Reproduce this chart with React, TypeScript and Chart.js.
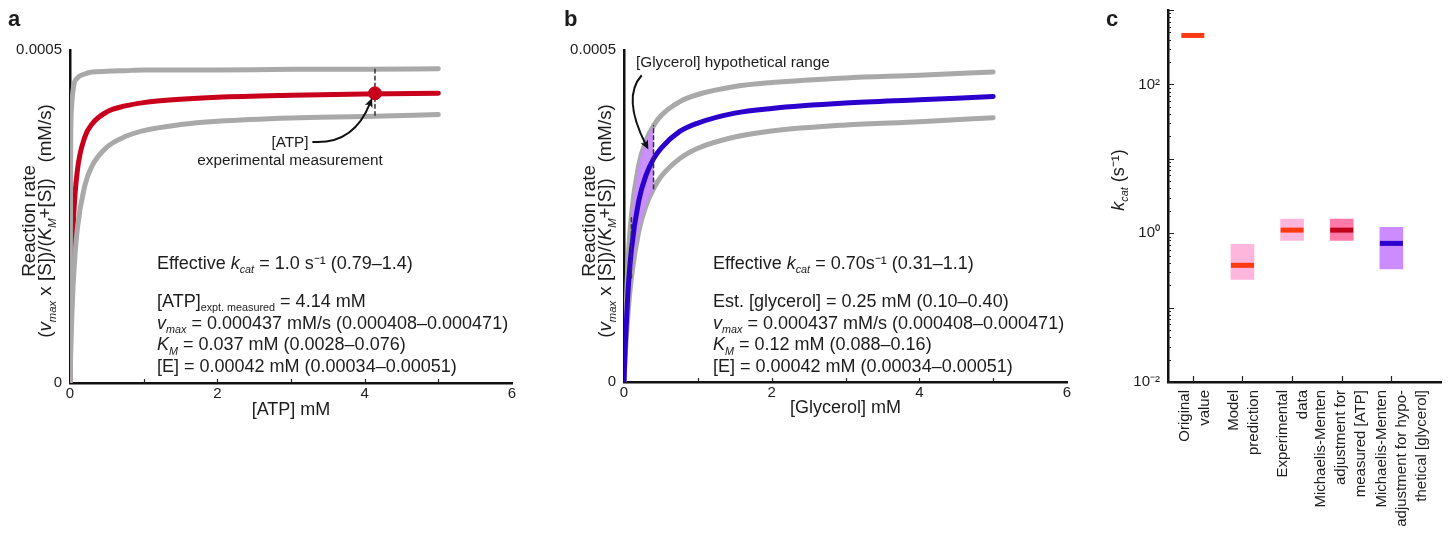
import React, { useEffect, useRef } from 'react';
import { Chart, registerables } from 'chart.js';
Chart.register(...registerables);

const FONT = '"Liberation Sans", Arial, Helvetica, sans-serif';
const TEXT = '#1c1c1c';
const GRAY = '#a9a9a9';
const RED = '#c8001c';
const BLUE = '#2b00cc';
const PURPLE_FILL = 'rgba(200,140,255,0.95)';

// ---------- Panel a : ATP ----------
const atpX = [0, 0.01, 0.02, 0.05, 0.1, 0.2, 0.3, 0.5, 0.75, 1, 1.5, 2, 3, 4, 5];
const atpUpper = [0, 0.000368, 0.000413, 0.000446, 0.000458, 0.000464, 0.000467, 0.000468, 0.000469, 0.00047, 0.00047, 0.00047, 0.000471, 0.000471, 0.000472];
const atpFit = [0, 0.000093, 0.000153, 0.000251, 0.000319, 0.000369, 0.000389, 0.000407, 0.000416, 0.000421, 0.000426, 0.000429, 0.000432, 0.000434, 0.000435];
const atpLower = [0, 0.000047, 0.000085, 0.000162, 0.000232, 0.000296, 0.000326, 0.000354, 0.00037, 0.000379, 0.000388, 0.000393, 0.000398, 0.0004, 0.000403];
const atpMeasured = 4.14;
const atpMeasuredRate = 0.000435;
const atpBand = [0.000471, 0.000401];

// ---------- Panel b : Glycerol ----------
const glyX = [0, 0.01, 0.02, 0.05, 0.1, 0.2, 0.3, 0.4, 0.5, 0.75, 1, 1.5, 2, 3, 4, 5];
const glyUpper = [0, 0.000048, 0.000087, 0.000171, 0.000251, 0.000327, 0.000364, 0.000386, 0.000401, 0.000422, 0.000433, 0.000445, 0.000451, 0.000458, 0.000462, 0.000467];
const glyFit = [0, 0.000034, 0.000062, 0.000129, 0.000199, 0.000273, 0.000312, 0.000336, 0.000352, 0.000377, 0.00039, 0.000405, 0.000412, 0.00042, 0.000425, 0.00043];
const glyLower = [0, 0.000024, 0.000045, 0.000097, 0.000157, 0.000227, 0.000266, 0.000291, 0.000309, 0.000336, 0.000352, 0.000369, 0.000378, 0.000387, 0.000392, 0.000398];
const glyRangeX = [0.1, 0.2, 0.3, 0.4];
const glyRangeUpper = [0.000251, 0.000327, 0.000364, 0.000386];
const glyRangeLower = [0.000157, 0.000227, 0.000266, 0.000291];

// ---------- Panel c : kcat ----------
const kcatPos = [1, 2, 3, 4, 5];
const kcatLabels = [
  ['Original', 'value'],
  ['Model', 'prediction'],
  ['Experimental', 'data'],
  ['Michaelis-Menten', 'adjustment for', 'measured [ATP]'],
  ['Michaelis-Menten', 'adjustment for hypo-', 'thetical [glycerol]'],
];
const kcatMid = [455, 0.37, 1.1, 1.1, 0.73];
const kcatLow = [null, 0.24, 0.8, 0.8, 0.33];
const kcatHigh = [null, 0.71, 1.55, 1.55, 1.2];
const kcatBoxColors = ['#ffb6dc', '#ffb6dc', '#ffb6dc', '#ff7aa8', '#cc8cff'];
const kcatLineColors = ['#ff3a12', '#ff3a12', '#ff3a12', '#c0001a', '#2b00cc'];
const kcatTickLabels: Record<string, string> = { '0.01': '10⁻²', '1': '10⁰', '100': '10²' };

const pts = (xs: number[], ys: number[]) => xs.map((x, i) => ({ x, y: ys[i] }));

type Arrow = { from: number[]; ctrl: number[]; to: number[] };
function arrowPlugin(items: Arrow[]) {
  return {
    id: 'arrows',
    afterDatasetsDraw(chart: any) {
      const xs = chart.scales.x, ys = chart.scales.y, ctx = chart.ctx;
      const P = (p: number[]) => [xs.getPixelForValue(p[0]), ys.getPixelForValue(p[1])];
      items.forEach((it) => {
        const [x0, y0] = P(it.from), [cx, cy] = P(it.ctrl), [x1, y1] = P(it.to);
        const ang = Math.atan2(y1 - cy, x1 - cx);
        const hl = 10;
        ctx.save();
        ctx.strokeStyle = '#111';
        ctx.fillStyle = '#111';
        ctx.lineWidth = 2;
        ctx.beginPath();
        ctx.moveTo(x0, y0);
        ctx.quadraticCurveTo(cx, cy, x1 - Math.cos(ang) * hl * 0.6, y1 - Math.sin(ang) * hl * 0.6);
        ctx.stroke();
        ctx.beginPath();
        ctx.moveTo(x1, y1);
        ctx.lineTo(x1 - hl * Math.cos(ang - 0.42), y1 - hl * Math.sin(ang - 0.42));
        ctx.lineTo(x1 - hl * 0.7 * Math.cos(ang), y1 - hl * 0.7 * Math.sin(ang));
        ctx.lineTo(x1 - hl * Math.cos(ang + 0.42), y1 - hl * Math.sin(ang + 0.42));
        ctx.closePath();
        ctx.fill();
        ctx.restore();
      });
    },
  };
}

function tickPlugin(xTicks: number[], xLen: number, yTicks: { v: number; len: number }[]) {
  return {
    id: 'innerTicks',
    afterDraw(chart: any) {
      const xs = chart.scales.x, ys = chart.scales.y, ctx = chart.ctx;
      const { left, bottom } = chart.chartArea;
      ctx.save();
      ctx.strokeStyle = '#222';
      ctx.lineWidth = 1.2;
      ctx.beginPath();
      xTicks.forEach((v) => {
        const px = Math.round(xs.getPixelForValue(v)) + 0.5;
        ctx.moveTo(px, bottom);
        ctx.lineTo(px, bottom - xLen);
      });
      yTicks.forEach((t) => {
        const py = Math.round(ys.getPixelForValue(t.v)) + 0.5;
        ctx.moveTo(left, py);
        ctx.lineTo(left + t.len, py);
      });
      ctx.stroke();
      ctx.restore();
    },
  };
}

// multi-line rotated category labels around each tick
function catLabelPlugin(labels: string[][], positions: number[], shifts: number[]) {
  return {
    id: 'catLabels',
    afterDraw(chart: any) {
      const xs = chart.scales.x, ctx = chart.ctx;
      const { bottom } = chart.chartArea;
      ctx.save();
      ctx.font = `15px ${FONT}`;
      ctx.fillStyle = TEXT;
      ctx.textAlign = 'right';
      ctx.textBaseline = 'middle';
      positions.forEach((p, i) => {
        const px = xs.getPixelForValue(p);
        const lines = labels[i];
        const n = lines.length;
        lines.forEach((t, j) => {
          const lx = px + (j - (n - 1) / 2) * 20 + shifts[i];
          ctx.save();
          ctx.translate(lx, bottom + 8);
          ctx.rotate(-Math.PI / 2);
          ctx.fillText(t, 0, 0);
          ctx.restore();
        });
      });
      ctx.restore();
    },
  };
}

const tickFont = { family: FONT, size: 15 };
const border = { display: true, color: '#111', width: 2.5 };
const noPad = (s: any) => { s.paddingTop = 0; s.paddingBottom = 0; s.paddingLeft = 0; s.paddingRight = 0; };

function curveOptions(xTitle: string, yWidth: number, xHeight: number, padRight: number, titleBottom: number) {
  return {
    animation: false,
    responsive: false,
    layout: { autoPadding: false, padding: { top: 50, right: padRight, left: 0, bottom: 0 } },
    plugins: { legend: { display: false }, tooltip: { enabled: false } },
    elements: {
      line: { borderWidth: 5, cubicInterpolationMode: 'monotone', borderCapStyle: 'round', fill: false },
      point: { radius: 0, hoverRadius: 0 },
    },
    scales: {
      x: {
        type: 'linear', min: 0, max: 6,
        afterBuildTicks: (s: any) => { s.ticks = [0, 2, 4, 6].map((v) => ({ value: v })); },
        ticks: { font: tickFont, color: TEXT, padding: 2, maxRotation: 0, autoSkip: false, callback: (v: any) => String(v) },
        grid: { display: false, drawTicks: false },
        border,
        title: { display: true, text: xTitle, font: { family: FONT, size: 18 }, color: TEXT, padding: { top: 0, bottom: titleBottom } },
        afterFit: (s: any) => { s.height = xHeight; noPad(s); },
      },
      y: {
        type: 'linear', min: 0, max: 0.0005,
        afterBuildTicks: (s: any) => { s.ticks = [{ value: 0 }, { value: 0.0005 }]; },
        ticks: { font: tickFont, color: TEXT, padding: 8, autoSkip: false, callback: (v: any) => (v === 0 ? '0' : '0.0005') },
        grid: { display: false, drawTicks: false },
        border,
        afterFit: (s: any) => { s.width = yWidth; noPad(s); },
      },
    },
  };
}

function configA(): any {
  return {
    type: 'line',
    data: {
      datasets: [
        { type: 'scatter', data: [{ x: atpMeasured, y: atpMeasuredRate }], pointRadius: 6.5, pointHoverRadius: 6.5, backgroundColor: RED, borderColor: RED, order: 0 },
        { data: [{ x: atpMeasured, y: atpBand[0] }, { x: atpMeasured, y: atpBand[1] }], borderColor: '#333', borderWidth: 1.5, borderDash: [4, 3], order: 1 },
        { data: pts(atpX, atpUpper), borderColor: GRAY, order: 2 },
        { data: pts(atpX, atpLower), borderColor: GRAY, order: 2 },
        { data: pts(atpX, atpFit), borderColor: RED, order: 3 },
      ],
    },
    options: curveOptions('[ATP] mM', 70, 47, 33, 9),
    plugins: [
      arrowPlugin([{ from: [3.29, 0.000362], ctrl: [3.85, 0.000358], to: [4.1, 0.000428] }]),
      tickPlugin([1, 2, 3, 4, 5], 4, []),
    ],
  };
}

function configB(): any {
  return {
    type: 'line',
    data: {
      datasets: [
        { data: [{ x: glyRangeX[0], y: glyRangeLower[0] }, { x: glyRangeX[0], y: glyRangeUpper[0] }], borderColor: '#333', borderWidth: 1.5, borderDash: [4, 3], order: 0 },
        { data: [{ x: glyRangeX[3], y: glyRangeLower[3] }, { x: glyRangeX[3], y: glyRangeUpper[3] }], borderColor: '#333', borderWidth: 1.5, borderDash: [4, 3], order: 0 },
        { data: pts(glyX, glyUpper), borderColor: GRAY, order: 2 },
        { data: pts(glyX, glyLower), borderColor: GRAY, order: 2 },
        { data: pts(glyX, glyFit), borderColor: BLUE, order: 1 },
        { data: pts(glyRangeX, glyRangeUpper), borderWidth: 0, borderColor: 'rgba(0,0,0,0)', backgroundColor: PURPLE_FILL, fill: '+1', order: 1.5 },
        { data: pts(glyRangeX, glyRangeLower), borderWidth: 0, borderColor: 'rgba(0,0,0,0)', order: 1.5 },
      ],
    },
    options: curveOptions('[Glycerol] mM', 72, 48, 30, 11),
    plugins: [
      arrowPlugin([{ from: [0.24, 0.000462], ctrl: [-0.03, 0.000429], to: [0.33, 0.00035] }]),
      tickPlugin([1, 2, 3, 4, 5], 4, []),
    ],
  };
}

function configC(): any {
  const boxes: any[] = [];
  const boxCols: string[] = [];
  kcatPos.forEach((x, i) => {
    if (kcatLow[i] != null && kcatHigh[i] != null) {
      boxes.push({ x, y: [kcatLow[i], kcatHigh[i]] });
      boxCols.push(kcatBoxColors[i]);
    }
  });
  const yTicks: { v: number; len: number }[] = [];
  for (let d = -2; d <= 2; d++) for (let m = 1; m <= 9; m++) yTicks.push({ v: m * Math.pow(10, d), len: m === 1 ? 6 : 3 });
  yTicks.push({ v: 1000, len: 6 });
  return {
    type: 'bar',
    data: {
      datasets: [
        {
          type: 'scatter',
          data: kcatPos.map((x, i) => ({ x, y: kcatMid[i] })),
          pointStyle: 'line', pointRadius: 11.5, pointHoverRadius: 11.5,
          borderWidth: 5, pointBorderWidth: 5,
          borderColor: kcatLineColors, pointBorderColor: kcatLineColors, backgroundColor: kcatLineColors,
          order: 0,
        },
        { type: 'bar', data: boxes, backgroundColor: boxCols, borderWidth: 0, barThickness: 23, order: 1 },
      ],
    },
    options: {
      animation: false,
      responsive: false,
      layout: { autoPadding: false, padding: { top: 10, right: 7, left: 0, bottom: 0 } },
      plugins: { legend: { display: false }, tooltip: { enabled: false } },
      scales: {
        x: {
          type: 'linear', min: 0.5, max: 6, offset: false,
          afterBuildTicks: (s: any) => { s.ticks = kcatPos.map((v) => ({ value: v })); },
          ticks: { display: false },
          grid: { display: false, drawTicks: false },
          border,
          afterFit: (s: any) => { s.height = 162; noPad(s); },
        },
        y: {
          type: 'logarithmic', min: 0.01, max: 1000,
          afterBuildTicks: (s: any) => { s.ticks = [0.01, 1, 100].map((v) => ({ value: v })); },
          ticks: { font: tickFont, color: TEXT, padding: 8, autoSkip: false, callback: (v: any) => kcatTickLabels[String(v)] ?? '' },
          grid: { display: false, drawTicks: false },
          border,
          afterFit: (s: any) => { s.width = 68; noPad(s); },
        },
      },
    },
    plugins: [tickPlugin(kcatPos, 6, yTicks), catLabelPlugin(kcatLabels, kcatPos, [2, 1.5, 0.5, -1, 10])],
  };
}

function ChartBox({ left, top, width, height, make }: any) {
  const ref = useRef<HTMLCanvasElement>(null);
  useEffect(() => {
    const c = new Chart(ref.current as HTMLCanvasElement, make());
    return () => c.destroy();
  }, []);
  return (
    <div style={{ position: 'absolute', left, top, width, height }}>
      <canvas ref={ref} width={width} height={height} style={{ width, height, display: 'block' }} />
    </div>
  );
}

const Sub = ({ children, it }: any) => (
  <span style={{ fontSize: '0.6em', fontStyle: it ? 'italic' : 'normal', position: 'relative', top: '0.4em', lineHeight: 0 }}>{children}</span>
);

function RotText({ cx, cy, w, h, fontSize, lineHeight, children }: any) {
  return (
    <div
      style={{
        position: 'absolute', left: cx - w / 2, top: cy - h / 2, width: w, height: h,
        transform: 'rotate(-90deg)', transformOrigin: '50% 50%', textAlign: 'center',
        fontSize, lineHeight: lineHeight + 'px', whiteSpace: 'nowrap', color: TEXT,
      }}
    >
      {children}
    </div>
  );
}

const abs = (left: number, top: number, extra: any = {}) => ({ position: 'absolute' as const, left, top, whiteSpace: 'nowrap' as const, ...extra });

export default function App() {
  const blockStyle = { fontSize: 18, lineHeight: '21.7px', color: TEXT };
  return (
    <div style={{ position: 'absolute', left: 0, top: 0, width: 1448, height: 544, background: '#fff', fontFamily: FONT, color: TEXT, overflow: 'hidden' }}>
      <ChartBox left={0} top={0} width={545} height={430} make={configA} />
      <ChartBox left={552} top={0} width={545} height={430} make={configB} />
      <ChartBox left={1100} top={0} width={348} height={544} make={configC} />

      {/* panel letters */}
      <div style={abs(8, 8, { fontSize: 22, fontWeight: 'bold', lineHeight: '22px' })}>a</div>
      <div style={abs(564, 8, { fontSize: 22, fontWeight: 'bold', lineHeight: '22px' })}>b</div>
      <div style={abs(1106, 8, { fontSize: 22, fontWeight: 'bold', lineHeight: '22px' })}>c</div>

      {/* y titles */}
      <RotText cx={37} cy={221} w={340} h={32} fontSize={18.8} lineHeight={16}>
        <div>Reaction rate</div>
        <div>(<i>v</i><Sub it>max</Sub> x [S])/(<i>K</i><Sub it>M</Sub>+[S])&nbsp;&nbsp;&nbsp;(mM/s)</div>
      </RotText>
      <RotText cx={597} cy={221} w={340} h={32} fontSize={18.8} lineHeight={16}>
        <div>Reaction rate</div>
        <div>(<i>v</i><Sub it>max</Sub> x [S])/(<i>K</i><Sub it>M</Sub>+[S])&nbsp;&nbsp;&nbsp;(mM/s)</div>
      </RotText>
      <RotText cx={1118} cy={180} w={120} h={22} fontSize={18} lineHeight={22}>
        <i>k</i><Sub it>cat</Sub> (s⁻¹)
      </RotText>

      {/* panel a annotations */}
      <div style={abs(190, 133, { width: 200, textAlign: 'center', fontSize: 15.3, lineHeight: '18px' })}>
        <div>[ATP]</div>
        <div>experimental measurement</div>
      </div>
      <div style={abs(157, 253, blockStyle)}>
        Effective <i>k</i><Sub it>cat</Sub> = 1.0 s⁻¹ (0.79–1.4)
      </div>
      <div style={abs(157, 291, blockStyle)}>
        <div>[ATP]<Sub>expt. measured</Sub> = 4.14 mM</div>
        <div><i>v</i><Sub it>max</Sub> = 0.000437 mM/s (0.000408–0.000471)</div>
        <div><i>K</i><Sub it>M</Sub> = 0.037 mM (0.0028–0.076)</div>
        <div>[E] = 0.00042 mM (0.00034–0.00051)</div>
      </div>

      {/* panel b annotations */}
      <div style={abs(636, 53, { fontSize: 15.3, lineHeight: '18px' })}>[Glycerol] hypothetical range</div>
      <div style={abs(713, 253, blockStyle)}>
        Effective <i>k</i><Sub it>cat</Sub> = 0.70s⁻¹ (0.31–1.1)
      </div>
      <div style={abs(713, 291, blockStyle)}>
        <div>Est. [glycerol] = 0.25 mM (0.10–0.40)</div>
        <div><i>v</i><Sub it>max</Sub> = 0.000437 mM/s (0.000408–0.000471)</div>
        <div><i>K</i><Sub it>M</Sub> = 0.12 mM (0.088–0.16)</div>
        <div>[E] = 0.00042 mM (0.00034–0.00051)</div>
      </div>
    </div>
  );
}
